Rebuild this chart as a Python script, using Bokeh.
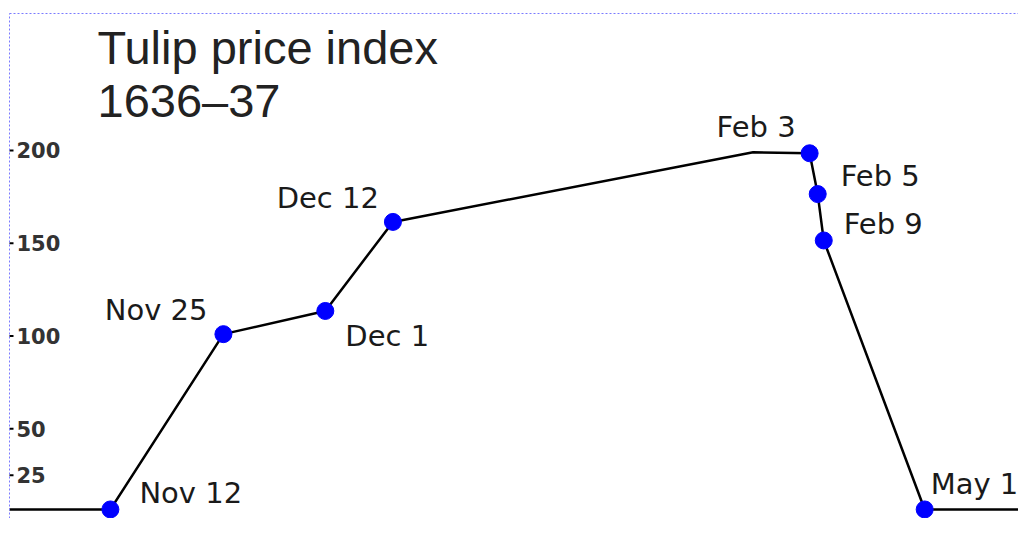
from bokeh.plotting import figure
from bokeh.models import Range1d, LinearAxis, FixedTicker, Label, ColumnDataSource
from bokeh.core.properties import value
from bokeh.embed import file_html
from bokeh.resources import INLINE

# ---- data (x in arbitrary position units 0..100, y = price index) ----
point_labels = ["Nov 12", "Nov 25", "Dec 1", "Dec 12", "Feb 3", "Feb 5", "Feb 9", "May 1"]
point_x = [10.0, 21.2, 31.3, 38.0, 79.3, 80.1, 80.7, 90.7]
point_y = [6.5, 101.0, 113.5, 161.5, 198.5, 176.5, 151.5, 6.5]

line_x = [-1.0, 10.0, 21.2, 31.3, 38.0, 73.7, 79.3, 80.1, 80.7, 90.7, 101.0]
line_y = [6.5, 6.5, 101.0, 113.5, 161.5, 199.0, 198.5, 176.5, 151.5, 6.5, 6.5]

y_ticks = [25, 50, 100, 150, 200]
y_tick_labels = ["25", "50", "100", "150", "200"]

title_line1 = "Tulip price index"
title_line2 = "1636\u201337"

# ---- label layout (style, not data) ----
label_align = ["left", "right", "left", "right", "right", "left", "left", "left"]
label_dx = [29, -16, 20, -14, -14, 23, 20, 6]
label_dy = [-16, -24, 25, -24, -26, -18, -16, -25]

p = figure(width=1018, height=518, output_backend="svg", toolbar_location=None,
           x_axis_type=None, y_axis_type=None,
           x_range=Range1d(0, 100), y_range=Range1d(1.62, 273.85),
           min_border_left=9, min_border_right=0, min_border_top=13, min_border_bottom=0)
p.grid.visible = False
p.outline_line_color = None
p.background_fill_color = "white"
p.border_fill_color = "white"

axis_color = "#7a7aff"

for loc in ("left", "above"):
    ax = LinearAxis(ticker=FixedTicker(ticks=[]), minor_tick_line_color=None,
                    major_tick_line_color=None, major_tick_in=0, major_tick_out=0,
                    major_label_standoff=0, axis_line_color=axis_color,
                    axis_line_dash="2 2", axis_line_width=1)
    p.add_layout(ax, loc)

# y tick marks (half of a dash marker, clipped at the frame edge) and labels
p.scatter(x=[0] * len(y_ticks), y=y_ticks, marker="dash", size=8,
          line_color="black", line_width=2)
p.text(x=[0] * len(y_ticks), y=y_ticks, text=y_tick_labels, x_offset=7,
       text_font=value("DejaVu Sans"), text_font_style="bold",
       text_font_size="21px", text_color="#333333",
       text_align="left", text_baseline="middle")

p.line(line_x, line_y, line_color="black", line_width=2.5)
p.scatter(point_x, point_y, size=17, fill_color="#0000ff", line_color="#0000ff")

src = ColumnDataSource(dict(x=point_x, y=point_y, t=point_labels,
                            align=label_align, dx=label_dx, dy=label_dy))
p.text(x="x", y="y", text="t", source=src, x_offset="dx", y_offset="dy",
       text_align="align", text_baseline="middle",
       text_font=value("DejaVu Sans"), text_font_size="29px", text_color="#1a1a1a")

p.add_layout(Label(x=88, y=471, x_units="screen", y_units="screen", text=title_line1,
                   text_font="Liberation Sans", text_font_size="47px",
                   text_color="#222222", text_baseline="middle"))
p.add_layout(Label(x=88, y=418, x_units="screen", y_units="screen", text=title_line2,
                   text_font="Liberation Sans", text_font_size="47px",
                   text_color="#222222", text_baseline="middle"))

open("out.html", "w").write(file_html(p, INLINE))
